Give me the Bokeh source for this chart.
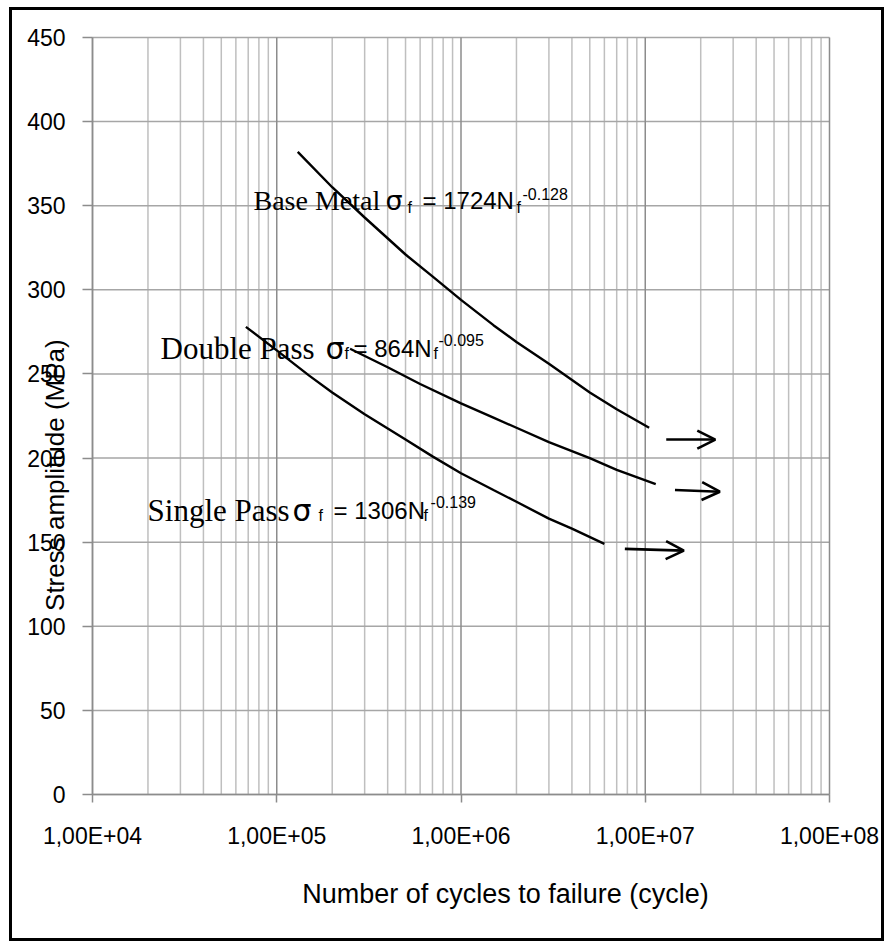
import math
from bokeh.plotting import figure
from bokeh.models import (FixedTicker, CustomJSTickFormatter, Label, Arrow, OpenHead)
from bokeh.core.properties import value
from bokeh.embed import file_html
from bokeh.resources import INLINE

# ---------------- data ----------------
x_ticks = [1e4, 1e5, 1e6, 1e7, 1e8]
x_tick_labels = ["1,00E+04", "1,00E+05", "1,00E+06", "1,00E+07", "1,00E+08"]
y_ticks = [0, 50, 100, 150, 200, 250, 300, 350, 400, 450]

base_N = [1.3e5, 2e5, 3e5, 5e5, 7e5, 1e6, 1.5e6, 2e6, 3e6, 5e6, 7e6, 1.05e7]
base_S = [382, 361, 343, 321, 308, 294, 279, 269, 256, 239, 229, 218]

double_N = [2.5e5, 4e5, 6e5, 1e6, 1.5e6, 2e6, 3e6, 5e6, 7e6, 1.14e7]
double_S = [265, 254, 244, 232.5, 224, 218, 209.5, 200, 193, 184.5]

single_N = [6.8e4, 1e5, 1.5e5, 2e5, 3e5, 5e5, 7e5, 1e6, 1.5e6, 2e6, 3e6, 4e6, 6e6]
single_S = [278, 264, 249, 239, 226, 211, 201, 191, 181, 174, 164, 158, 149]

arrow_N0 = [1.30e7, 1.45e7, 7.75e6]
arrow_N1 = [2.40e7, 2.54e7, 1.62e7]
arrow_S0 = [211, 181, 146]
arrow_S1 = [211, 180, 145]

x_title = "Number of cycles to failure (cycle)"
y_title = "Stress amplitude  (MPa)"

# ---------------- layout geometry ----------------
W, H = 875, 934                      # canvas size (page: canvas starts at 12, 10)
PX_DEC = 184.25                      # pixels per decade on the x axis
PX_UNIT = 757 / 450                  # pixels per MPa on the y axis
FRAME_L, FRAME_R, FRAME_T, FRAME_B = 80, 58, 27, 150   # plot-area insets in the canvas
lx0 = math.log10(x_ticks[0]) - FRAME_L / PX_DEC
lx1 = math.log10(x_ticks[-1]) + FRAME_R / PX_DEC
y0 = y_ticks[0] - FRAME_B / PX_UNIT
y1 = y_ticks[-1] + FRAME_T / PX_UNIT

x_minor = [m * 10 ** e for e in range(4, 8) for m in range(2, 10)]

p = figure(width=W, height=H, x_axis_type="log",
           x_range=(10 ** lx0, 10 ** lx1), y_range=(y0, y1),
           output_backend="svg", toolbar_location=None,
           min_border_left=0, min_border_right=0, min_border_top=0, min_border_bottom=0)
p.styles = {"border": "3px solid black", "margin-left": "9px", "margin-top": "7px"}
p.outline_line_color = None
p.background_fill_color = "white"
p.border_fill_color = "white"
p.xgrid.grid_line_color = None
p.ygrid.grid_line_color = None

# grid lines (limited to the plotting area)
GRID_MAJOR, GRID_MINOR, GRID_H = "#8c8c8c", "#bfbfbf", "#a6a6a6"
p.segment(x0=x_minor, y0=[y_ticks[0]] * len(x_minor), x1=x_minor, y1=[y_ticks[-1]] * len(x_minor),
          line_color=GRID_MINOR, line_width=1.5)
p.segment(x0=[x_ticks[0]] * len(y_ticks), y0=y_ticks,
          x1=[x_ticks[-1]] * len(y_ticks), y1=y_ticks, line_color=GRID_H, line_width=1.5)
p.segment(x0=x_ticks, y0=[y_ticks[0]] * len(x_ticks), x1=x_ticks, y1=[y_ticks[-1]] * len(x_ticks),
          line_color=GRID_MAJOR, line_width=1.5)

# axes, pinned to the plotting area
p.xaxis.fixed_location = y_ticks[0]
p.yaxis.fixed_location = x_ticks[0]
p.xaxis.bounds = (x_ticks[0], x_ticks[-1])
p.yaxis.bounds = (y_ticks[0], y_ticks[-1])
p.xaxis.ticker = FixedTicker(ticks=x_ticks, minor_ticks=x_minor)
p.yaxis.ticker = FixedTicker(ticks=y_ticks)
p.xaxis.formatter = CustomJSTickFormatter(
    args=dict(tks=x_ticks, lbls=x_tick_labels),
    code="""
    for (let i = 0; i < tks.length; i++) {
        if (Math.abs(Math.log10(tick) - Math.log10(tks[i])) < 1e-6) return lbls[i];
    }
    return "";
    """)

for ax in (p.xaxis[0], p.yaxis[0]):
    ax.axis_line_color = GRID_MAJOR
    ax.axis_line_width = 1.5
    ax.major_tick_line_color = GRID_MAJOR
    ax.major_tick_line_width = 1.5
    ax.major_tick_in = 0
    ax.minor_tick_in = 0
    ax.minor_tick_out = 0
    ax.major_label_text_font = "Liberation Sans"
    ax.major_label_text_font_size = "23px"
    ax.major_label_text_color = "black"

p.xaxis.major_tick_out = 8
p.yaxis.major_tick_out = 10
p.xaxis.major_label_standoff = 20
p.yaxis.major_label_standoff = 17

# axis titles placed like the original (y title overlaps the tick labels)
p.text(x=[10 ** (4 - 38 / PX_DEC)], y=[192], text=[y_title], angle=math.pi / 2,
       text_align="center", text_baseline="middle",
       text_font=value("Liberation Sans"), text_font_size="26px", text_color="black")
p.text(x=[10 ** (4 + 413 / PX_DEC)], y=[-59], text=[x_title],
       text_align="center", text_baseline="alphabetic",
       text_font=value("Liberation Sans"), text_font_size="27px", text_color="black")

# curves
for N, S in ((base_N, base_S), (double_N, double_S), (single_N, single_S)):
    p.line(N, S, line_color="black", line_width=2.4)

# arrows
for i in range(len(arrow_N0)):
    p.add_layout(Arrow(end=OpenHead(size=18, line_width=2.6, line_color="black"),
                       x_start=arrow_N0[i], y_start=arrow_S0[i],
                       x_end=arrow_N1[i], y_end=arrow_S1[i],
                       line_width=2.6, line_color="black"))

# equation labels
SERIF = "Liberation Serif"
SANS = "Liberation Sans"
eqs = [
    (7.48e4, 353.0, 28, "Base Metal", "= 1724N", "-0.128", (132, 154, 169, 263, 269), (-7, 7)),
    (2.34e4, 265.0, 31, "Double Pass", "= 864N", "-0.095", (165, 184, 193, 273, 278), (-5, 9)),
    (1.99e4, 168.8, 31, "Single Pass", "= 1306N", "-0.139", (145, 171, 186, 276, 283), (-5, 9)),
]
for (xa, ya, fs, name, coef, expo, offs, (dsub, dsup)) in eqs:
    segs = [
        (name, 0, 0, SERIF, fs),
        ("\u03c3", offs[0], 0, "DejaVu Sans", fs - 1),
        ("f", offs[1], dsub, SANS, 16),
        (coef, offs[2], 0, SANS, 24),
        ("f", offs[3], dsub, SANS, 16),
        (expo, offs[4], dsup, SANS, 16),
    ]
    for (t, dx, dy, font, size) in segs:
        p.add_layout(Label(x=xa, y=ya, x_offset=dx, y_offset=dy, text=t,
                           text_font=font, text_font_size=f"{size}px",
                           text_align="left", text_baseline="alphabetic",
                           text_color="black"))

open("out.html", "w").write(file_html(p, INLINE))
